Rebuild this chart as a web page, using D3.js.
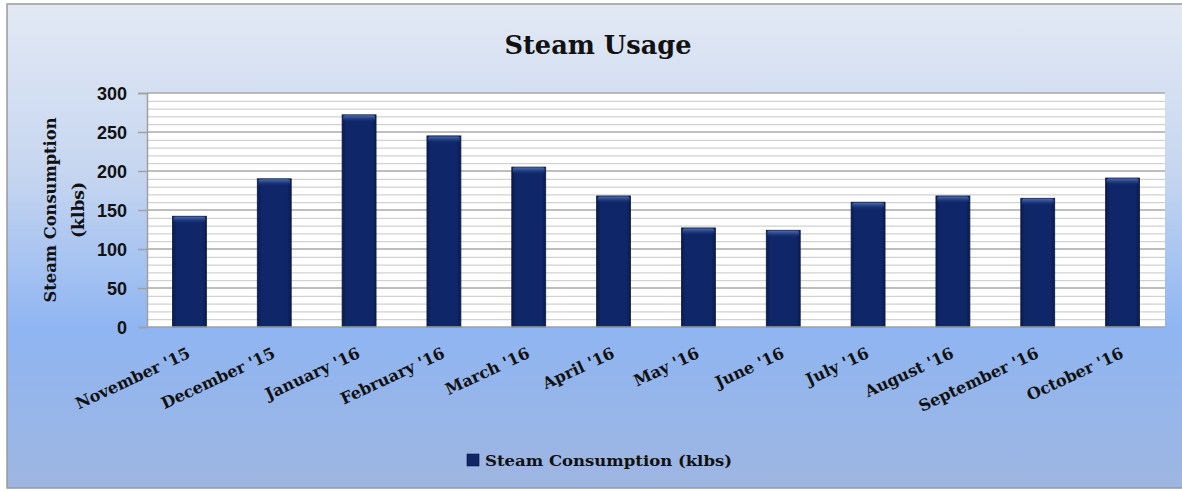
<!DOCTYPE html>
<html>
<head>
<meta charset="utf-8">
<script src="https://cdn.jsdelivr.net/npm/d3@7"></script>
<style>
  html, body { margin: 0; padding: 0; background: #ffffff; }
  svg { display: block; }
</style>
</head>
<body>
<svg id="chart" width="1182" height="491"></svg>
<script>
// ---- data ----
const categories = ["November '15", "December '15", "January '16", "February '16", "March '16", "April '16",
                    "May '16", "June '16", "July '16", "August '16", "September '16", "October '16"];
const steamValues = [142, 190, 272, 245, 205, 168, 127, 124, 160, 168, 165, 191];
const yTicks = [0, 50, 100, 150, 200, 250, 300];
const minorTicks = d3.range(0, 301, 10);
const chartTitle = "Steam Usage";
const yTitleLines = ["Steam Consumption", "(klbs)"];
const seriesName = "Steam Consumption (klbs)";

// ---- layout ----
const W = 1182, H = 491;
const plot = { left: 147, right: 1165, top: 93, bottom: 327 };
const serif = "'DejaVu Serif', 'Liberation Serif', serif";

const svg = d3.select("#chart");
const defs = svg.append("defs");

const bg = defs.append("linearGradient").attr("id", "bg").attr("x1", 0).attr("y1", 0).attr("x2", 0).attr("y2", 1);
[[0, "#e3e9f4"], [0.35, "#c6d6f0"], [0.67, "#8fb5f2"], [1, "#9eb6e1"]]
  .forEach(([o, c]) => bg.append("stop").attr("offset", o).attr("stop-color", c));

const barH = defs.append("linearGradient").attr("id", "barH").attr("x1", 0).attr("y1", 0).attr("x2", 1).attr("y2", 0);
[[0, "#0a1a4e"], [0.12, "#0f2768"], [0.88, "#0f2768"], [1, "#0a1a4e"]]
  .forEach(([o, c]) => barH.append("stop").attr("offset", o).attr("stop-color", c));

const barTop = defs.append("linearGradient").attr("id", "barTop").attr("x1", 0).attr("y1", 0).attr("x2", 0).attr("y2", 1);
[[0, "#5676b6", 0.9], [0.5, "#2c4a90", 0.6], [1, "#0f2768", 0]]
  .forEach(([o, c, a]) => barTop.append("stop").attr("offset", o).attr("stop-color", c).attr("stop-opacity", a));

// chart frame
svg.append("rect").attr("x", 7).attr("y", 4).attr("width", W).attr("height", 484)
  .attr("fill", "url(#bg)").attr("stroke", "#9a9a9a").attr("stroke-width", 1.5);

// scales
const x = d3.scaleBand().domain(categories).range([plot.left, plot.right]).padding(0);
const y = d3.scaleLinear().domain([0, 300]).range([plot.bottom, plot.top]);

// plot area
svg.append("rect").attr("x", plot.left).attr("y", plot.top)
  .attr("width", plot.right - plot.left).attr("height", plot.bottom - plot.top).attr("fill", "#ffffff");

// minor gridlines
svg.append("g").selectAll("line").data(minorTicks.filter(v => v % 50 !== 0)).join("line")
  .attr("x1", plot.left).attr("x2", plot.right)
  .attr("y1", d => y(d) + 0.5).attr("y2", d => y(d) + 0.5)
  .attr("stroke", "#d2d2d2").attr("stroke-width", 1.2);

// major gridlines
svg.append("g").selectAll("line").data(yTicks.filter(v => v > 0)).join("line")
  .attr("x1", plot.left).attr("x2", plot.right)
  .attr("y1", d => y(d)).attr("y2", d => y(d))
  .attr("stroke", "#a9a9a9").attr("stroke-width", 1.6);

// bars
const bw = x.bandwidth() * 0.4;
const bars = svg.append("g").selectAll("g").data(categories.map((c, i) => ({ c, v: steamValues[i] }))).join("g");
bars.append("rect")
  .attr("x", d => x(d.c) + (x.bandwidth() - bw) / 2)
  .attr("y", d => y(d.v))
  .attr("width", bw)
  .attr("height", d => y(0) - y(d.v))
  .attr("fill", "url(#barH)")
  .attr("stroke", "#0a1a48").attr("stroke-width", 0.8);
bars.append("rect")
  .attr("x", d => x(d.c) + (x.bandwidth() - bw) / 2 + 1)
  .attr("y", d => y(d.v) + 0.5)
  .attr("width", bw - 2)
  .attr("height", 7)
  .attr("rx", 2)
  .attr("fill", "url(#barTop)");

// y axis
const yAxis = svg.append("g").attr("transform", `translate(${plot.left},0)`)
  .call(d3.axisLeft(y).tickValues(yTicks).tickSize(9).tickPadding(11));
yAxis.select(".domain").attr("stroke", "#a0a0a0").attr("stroke-width", 1.5);
yAxis.selectAll(".tick line").attr("stroke", "#a0a0a0").attr("stroke-width", 1.5);
yAxis.selectAll(".tick text")
  .attr("font-family", "'Liberation Sans Narrow', 'Liberation Sans', Arial, sans-serif")
  .attr("font-weight", "bold").attr("font-size", 18).attr("fill", "#111")
  .attr("dy", "0.35em");

// x axis baseline
svg.append("line").attr("x1", plot.left).attr("x2", plot.right)
  .attr("y1", y(0)).attr("y2", y(0)).attr("stroke", "#a0a0a0").attr("stroke-width", 1.5);

// x labels
svg.append("g").selectAll("text").data(categories).join("text")
  .attr("transform", d => `translate(${x(d) + x.bandwidth() / 2 + 2},357) rotate(-25)`)
  .attr("text-anchor", "end")
  .attr("font-family", serif).attr("font-weight", "bold").attr("font-size", 16).attr("fill", "#111")
  .text(d => d);

// title
function fitText(sel, len) {
  sel.each(function () {
    const L = this.getComputedTextLength();
    if (Math.abs(L - len) > 2) d3.select(this).attr("textLength", len).attr("lengthAdjust", "spacingAndGlyphs");
  });
}
svg.append("text").attr("x", 598).attr("y", 54).attr("text-anchor", "middle")
  .attr("font-family", serif).attr("font-weight", "bold").attr("font-size", 26).attr("fill", "#111")
  .text(chartTitle).call(fitText, 187);

// y title
const yt = svg.append("g").attr("transform", "translate(0,210)");
yt.append("text").attr("transform", "translate(56,0) rotate(-90)").attr("text-anchor", "middle")
  .attr("font-family", serif).attr("font-weight", "bold").attr("font-size", 16).attr("fill", "#111")
  .text(yTitleLines[0]).call(fitText, 185);
yt.append("text").attr("transform", "translate(84,0) rotate(-90)").attr("text-anchor", "middle")
  .attr("font-family", serif).attr("font-weight", "bold").attr("font-size", 16).attr("fill", "#111")
  .text(yTitleLines[1]).call(fitText, 56);

// legend
const lg = svg.append("g");
lg.append("rect").attr("x", 467).attr("y", 454).attr("width", 12).attr("height", 12)
  .attr("fill", "url(#barH)").attr("stroke", "#0a1a48").attr("stroke-width", 0.6);
lg.append("text").attr("x", 485).attr("y", 466)
  .attr("font-family", serif).attr("font-weight", "bold").attr("font-size", 15).attr("fill", "#111")
  .text(seriesName).call(fitText, 247);
</script>
</body>
</html>
